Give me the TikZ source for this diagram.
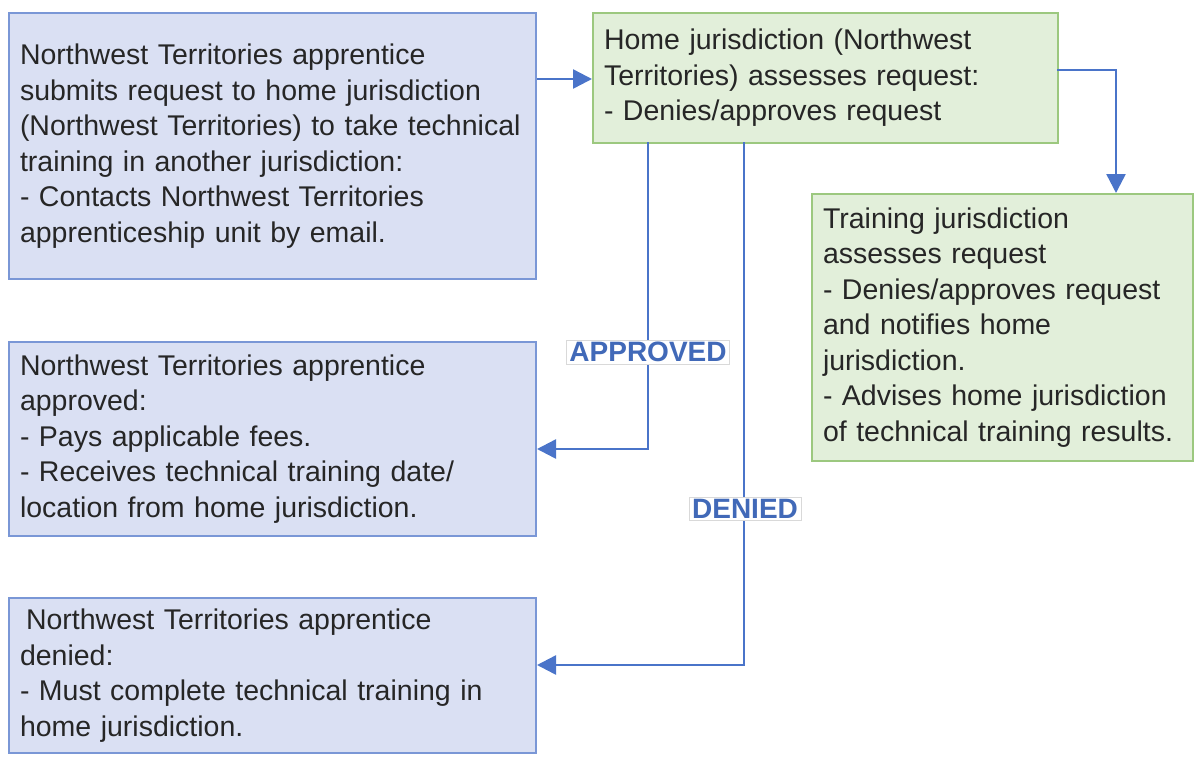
\documentclass[tikz,border=0pt]{standalone}
\usepackage{fontspec}
\setmainfont{Liberation Sans}
\usetikzlibrary{arrows.meta}
\definecolor{bluefill}{HTML}{DAE0F3}
\definecolor{blueline}{HTML}{7A97D6}
\definecolor{greenfill}{HTML}{E2EFDA}
\definecolor{greenline}{HTML}{9CC87F}
\definecolor{arrowc}{HTML}{4A74C9}
\definecolor{labelc}{HTML}{4169B8}
\definecolor{txt}{HTML}{262626}
\tikzset{
  boxbase/.style={draw, line width=2pt, anchor=north west, inner xsep=11pt, inner ysep=0pt,
    align=left, text=txt, font=\fontsize{28.5}{35.5}\selectfont},
  bluebox/.style={boxbase, fill=bluefill, draw=blueline},
  greenbox/.style={boxbase, fill=greenfill, draw=greenline},
  conn/.style={draw=arrowc, line width=2.5pt, -{Triangle[length=19pt,width=19pt]}},
  lbl/.style={draw=black!15, line width=0.8pt, fill=white, text=labelc, inner xsep=3pt, inner ysep=2pt,
    font=\fontsize{28}{30}\selectfont\bfseries}
}
\begin{document}
\begin{tikzpicture}[x=1pt,y=-1pt]
\useasboundingbox (0,0) rectangle (1197,756);
\node[bluebox, minimum width=527pt, minimum height=266pt, text width=505pt] (a) at (8,12)
 {Northwest Territories apprentice\\submits request to home jurisdiction\\(Northwest Territories) to take technical\\training in another jurisdiction:\\- Contacts Northwest Territories\\apprenticeship unit by email.};
\node[greenbox, minimum width=465pt, minimum height=130pt, text width=443pt] (b) at (592,12)
 {Home jurisdiction (Northwest\\Territories) assesses request:\\- Denies/approves request};
\node[greenbox, minimum width=381pt, minimum height=267pt, text width=359pt] (c) at (811,193)
 {Training jurisdiction\\assesses request\\- Denies/approves request\\and notifies home\\jurisdiction.\\- Advises home jurisdiction\\of technical training results.};
\node[bluebox, minimum width=527pt, minimum height=194pt, text width=505pt] (d) at (8,341)
 {Northwest Territories apprentice\\approved:\\- Pays applicable fees.\\- Receives technical training date/\\location from home jurisdiction.};
\node[bluebox, minimum width=527pt, minimum height=155pt, text width=505pt] (e) at (8,597)
 {\hspace{6pt}Northwest Territories apprentice\\denied:\\- Must complete technical training in\\home jurisdiction.};
\coordinate (bapp) at (648,142);
\coordinate (bden) at (744,142);
\coordinate (bright) at (1057,70);
\draw[conn] (a.east |- 0,79) -- (b.west |- 0,79);
\draw[conn] (bright) -| (1116,193);
\draw[conn] (bapp) |- (d.east |- 0,449);
\draw[conn] (bden) |- (e.east |- 0,665);
\node[lbl] (lapp) at (648,352) {APPROVED};
\node[lbl] (lden) at (745,509) {DENIED};
\end{tikzpicture}
\end{document}
